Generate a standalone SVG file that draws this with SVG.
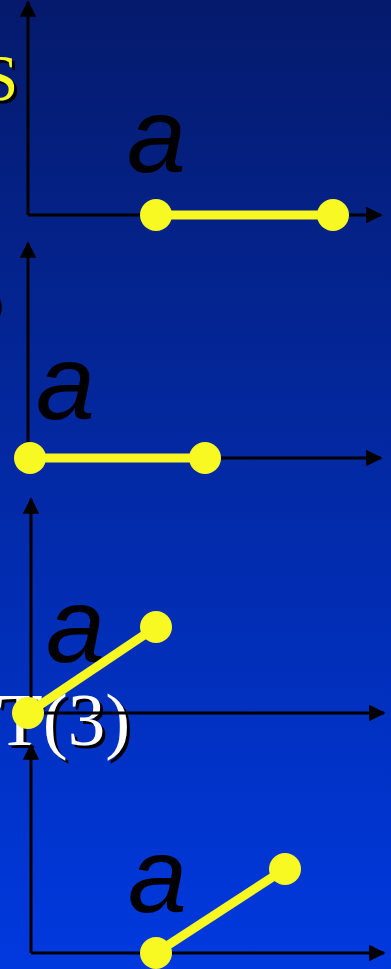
<svg xmlns="http://www.w3.org/2000/svg" width="391" height="969" viewBox="0 0 391 969">
<defs>
<linearGradient id="bg" x1="0" y1="0" x2="0" y2="1">
<stop offset="0" stop-color="#051a6c"/>
<stop offset="1" stop-color="#0039df"/>
</linearGradient>
<marker id="ah" viewBox="0 0 10 10" refX="9" refY="5" markerWidth="5.5" markerHeight="5.5" orient="auto" markerUnits="strokeWidth">
<path d="M0,0 L10,5 L0,10 Z" fill="#000"/>
</marker>
<style>
.ax{stroke:#000;stroke-width:3;fill:none}
.seg{stroke:#f8f822;stroke-width:9;fill:none}
.dot{fill:#f8f822}
.lbl{font-family:"Liberation Sans",Arial,sans-serif;font-style:italic;font-size:106px;fill:#000}
.ttl{font-family:"Liberation Serif","Times New Roman",serif}
</style>
</defs>
<rect width="391" height="969" fill="url(#bg)"/>
<g id="title-fragments">
<text class="ttl" x="-15" y="103" font-size="65" fill="#000">S</text>
<text class="ttl" x="-18" y="100" font-size="65" fill="#f8f822">S</text>
<text class="ttl" x="-26" y="321" font-size="60" fill="#000">o</text>
<text class="ttl" x="0" y="748" font-size="75" fill="#000">T(3)</text>
<text class="ttl" x="-3" y="745" font-size="75" fill="#fff">T(3)</text>
</g>
<g id="connectors">
<line class="ax" x1="28" y1="215" x2="28" y2="2" marker-end="url(#ah)"/>
<line class="ax" x1="28" y1="215" x2="381" y2="215" marker-end="url(#ah)"/>
<line class="ax" x1="28" y1="458" x2="28" y2="243" marker-end="url(#ah)"/>
<line class="ax" x1="28" y1="458" x2="381" y2="458" marker-end="url(#ah)"/>
<line class="ax" x1="31" y1="713" x2="31" y2="499" marker-end="url(#ah)"/>
<line class="ax" x1="31" y1="713" x2="384" y2="713" marker-end="url(#ah)"/>
<line class="ax" x1="31" y1="953" x2="31" y2="745" marker-end="url(#ah)"/>
<line class="ax" x1="31" y1="953" x2="384" y2="953" marker-end="url(#ah)"/>
</g>
<g id="panel1">
<text class="lbl" x="127" y="172">a</text>
<line class="seg" x1="156" y1="215" x2="333" y2="215"/>
<circle class="dot" cx="156" cy="215" r="16"/>
<circle class="dot" cx="333" cy="215" r="16"/>
</g>
<g id="panel2">
<text class="lbl" x="36" y="419">a</text>
<line class="seg" x1="30" y1="458" x2="205" y2="458"/>
<circle class="dot" cx="30" cy="458" r="16"/>
<circle class="dot" cx="205" cy="458" r="16"/>
</g>
<g id="panel3">
<text class="lbl" x="46" y="662">a</text>
<line class="seg" x1="28" y1="713" x2="156" y2="627"/>
<circle class="dot" cx="28" cy="713" r="16"/>
<circle class="dot" cx="156" cy="627" r="16"/>
</g>
<g id="panel4">
<text class="lbl" x="128" y="912">a</text>
<line class="seg" x1="156" y1="953" x2="285" y2="869"/>
<circle class="dot" cx="156" cy="953" r="16"/>
<circle class="dot" cx="285" cy="869" r="16"/>
</g>
</svg>
